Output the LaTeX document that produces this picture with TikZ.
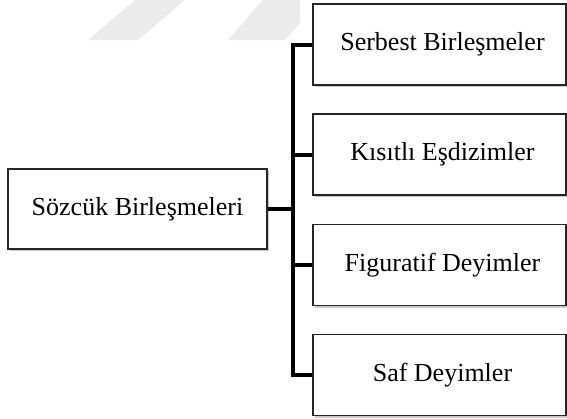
\documentclass[tikz,border=0pt]{standalone}
\usepackage{fontspec}
\setmainfont{Liberation Serif}
\usetikzlibrary{shadows}
\begin{document}
\begin{tikzpicture}[x=1pt,y=-1pt,
  box/.style={draw=black!85,line width=1.3pt,fill=white,inner sep=0pt,
    font=\fontsize{26}{30}\selectfont,
    drop shadow={shadow xshift=2pt,shadow yshift=-2pt,fill=black!35,opacity=0.6}},
  leaf/.style={box,minimum width=253pt,minimum height=81pt},
  rootbox/.style={box,minimum width=259pt,minimum height=80pt},
  conn/.style={line width=4pt,black,line cap=rect,line join=miter},
  band/.style={fill=black!8,draw=none}]
\useasboundingbox (0,0) rectangle (567,418);
% faint diagonal bands along the top edge
\begin{scope}
  \clip (0,0) rectangle (300,40);
  \path[band] (88,40) -- (135,0) -- (185,0) -- (138,40) -- cycle;
  \path[band] (228,40) -- (263,0) -- (320,0) -- (285,40) -- cycle;
\end{scope}
% root and the four kinds of word combinations
\node[rootbox] (root) at (137.5,209) {Sözcük Birleşmeleri};
\node[leaf] (b1) at (439.5,44.5) {\hspace*{6pt}Serbest Birleşmeler};
\node[leaf] (b2) at (439.5,154.5) {\hspace*{6pt}Kısıtlı Eşdizimler};
\node[leaf] (b3) at (439.5,265) {\hspace*{6pt}Figuratif Deyimler};
\node[leaf] (b4) at (439.5,375) {\hspace*{6pt}Saf Deyimler};
% bracket connector
\coordinate (j) at (293,209);
\draw[conn,line cap=butt] (b1.west) -| (j) |- (b4.west);
\draw[conn,line cap=butt] (b2.west) -- (b2.west -| j);
\draw[conn,line cap=butt] (b3.west) -- (b3.west -| j);
\draw[conn,line cap=butt] (root.east) -- (j);
\end{tikzpicture}
\end{document}
